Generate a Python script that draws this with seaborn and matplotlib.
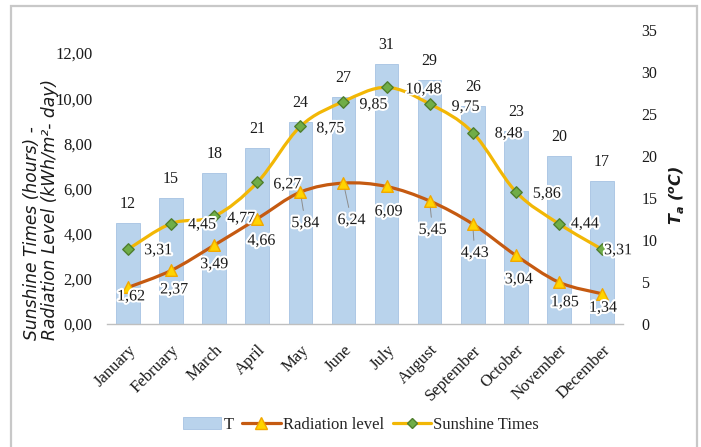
import numpy as np
import pandas as pd
import matplotlib
matplotlib.use("Agg")
import matplotlib.pyplot as plt
import matplotlib.patheffects as pe
import seaborn as sns
from matplotlib.path import Path
from matplotlib.patches import PathPatch, Patch, Rectangle
from matplotlib.lines import Line2D
from matplotlib.ticker import FuncFormatter

# ---- data -------------------------------------------------------------
months = ["January", "February", "March", "April", "May", "June", "July",
          "August", "September", "October", "November", "December"]
temperature = [12, 15, 18, 21, 24, 27, 31, 29, 26, 23, 20, 17]
radiation = [1.62, 2.37, 3.49, 4.66, 5.84, 6.24, 6.09, 5.45, 4.43, 3.04, 1.85, 1.34]
sunshine = [3.31, 4.45, 4.77, 6.27, 8.75, 9.85, 10.48, 9.75, 8.48, 5.86, 4.44, 3.31]
left_ticks = [0, 2, 4, 6, 8, 10, 12]
right_ticks = [0, 5, 10, 15, 20, 25, 30, 35]

# ---- label placement (pixels: dx to the right, dy downward) -----------
rad_offsets = [(3, 9), (3, 19), (0, 19), (4, 22), (5, 31), (8, 37),
               (2, 25), (3, 29), (2, 29), (3, 24), (6, 20), (1, 14)]
rad_leader = [False, False, False, False, True, True,
              False, True, True, False, False, False]
sun_offsets = [(30, 1), (31, 1), (27, 2), (30, 2), (30, 2), (30, 3),
               (37, 2), (36, 3), (36, 1), (31, 2), (26, 0), (16, 1)]

BAR = "#B9D3EC"
BAR_EDGE = "#A6C2E2"
RAD_LINE = "#C55A11"
RAD_FACE = "#FFD400"
RAD_EDGE = "#F2A800"
SUN_LINE = "#F2B705"
SUN_FACE = "#70AD47"
SUN_EDGE = "#4F7F2E"
TEXT = "#1a1a1a"

sns.set_theme(style="white")
plt.rcParams["font.family"] = ["Liberation Serif", "DejaVu Serif"]
plt.rcParams["mathtext.fontset"] = "dejavusans"

PX = 72 / 100  # pixels -> points at 100 dpi


def comma(v):
    return f"{v:.2f}".replace(".", ",")


def smooth_path(xs, ys):
    """Bezier path through the points with Catmull-Rom style tangents."""
    pts = np.column_stack([xs, ys]).astype(float)
    ext = np.vstack([pts[0], pts, pts[-1]])
    verts, codes = [pts[0]], [Path.MOVETO]
    for i in range(len(pts) - 1):
        p0, p1, p2, p3 = ext[i], ext[i + 1], ext[i + 2], ext[i + 3]
        verts += [p1 + (p2 - p0) / 6, p2 - (p3 - p1) / 6, p2]
        codes += [Path.CURVE4] * 3
    return Path(verts, codes)


fig = plt.figure(figsize=(7.01, 4.47), dpi=100)
axb = fig.add_axes([106.5 / 701, 1 - 324 / 447, 517 / 701, 294 / 447])
axl = axb.twinx()

# temperature bars (right scale)
df = pd.DataFrame({"Month": months, "T": temperature})
sns.barplot(data=df, x="Month", y="T", ax=axb, color=BAR, saturation=1,
            width=0.55, edgecolor=BAR_EDGE, linewidth=0.6)
axb.yaxis.tick_right()
axb.yaxis.set_label_position("right")
axl.yaxis.tick_left()
axl.yaxis.set_label_position("left")

x = np.arange(len(months))

# smoothed lines (left scale)
axl.add_patch(PathPatch(smooth_path(x, sunshine), fill=False,
                        edgecolor=SUN_LINE, lw=2.3, capstyle="round", zorder=2))
axl.add_patch(PathPatch(smooth_path(x, radiation), fill=False,
                        edgecolor=RAD_LINE, lw=2.3, capstyle="round", zorder=2))
sns.scatterplot(x=x, y=sunshine, ax=axl, marker="D", s=34, color=SUN_FACE,
                edgecolor=SUN_EDGE, linewidth=1.0, zorder=3)
sns.scatterplot(x=x, y=radiation, ax=axl, marker="^", s=70, color=RAD_FACE,
                edgecolor=RAD_EDGE, linewidth=1.0, zorder=3)

halo = [pe.withStroke(linewidth=3, foreground="white")]

for i, t in enumerate(temperature):
    axb.annotate(str(t), xy=(i, t), xytext=(0, 19 * PX), textcoords="offset points",
                 ha="center", va="center", fontsize=11.5, color=TEXT)

for i, v in enumerate(sunshine):
    dx, dy = sun_offsets[i]
    axl.annotate(comma(v), xy=(i, v), xytext=(dx * PX, -dy * PX),
                 textcoords="offset points", ha="center", va="center",
                 fontsize=11.5, color=TEXT, path_effects=halo, zorder=5)

for i, v in enumerate(radiation):
    dx, dy = rad_offsets[i]
    kw = {}
    if rad_leader[i]:
        kw["arrowprops"] = dict(arrowstyle="-", color="#8c8c8c", lw=0.7,
                                shrinkA=1, shrinkB=5)
    axl.annotate(comma(v), xy=(i, v), xytext=(dx * PX, -dy * PX),
                 textcoords="offset points", ha="center", va="center",
                 fontsize=11.5, color=TEXT, path_effects=halo, zorder=5, **kw)

# axes, ticks
axb.set_xlim(-0.5, len(months) - 0.5)
axl.set_xlim(-0.5, len(months) - 0.5)
axb.set_ylim(0, 35)
axl.set_ylim(0, 13.02)
axb.set_yticks(right_ticks)
axb.set_yticklabels([str(t) for t in right_ticks])
axl.set_yticks(left_ticks)
axl.yaxis.set_major_formatter(FuncFormatter(lambda v, _: comma(v)))
axb.set_xticks(x)
axb.set_xticklabels(months, rotation=45, ha="right", rotation_mode="anchor")
axb.set_xlabel("")
axb.set_ylabel("")
axl.set_xlabel("")
axl.set_ylabel("")
axb.tick_params(axis="x", length=0, pad=13, labelsize=12, colors=TEXT)
axb.tick_params(axis="y", length=0, pad=13, labelsize=11.5, colors=TEXT)
axl.tick_params(axis="y", length=0, pad=10, labelsize=12, colors=TEXT)

for a in (axb, axl):
    for s in a.spines.values():
        s.set_visible(False)
axb.spines["bottom"].set_visible(True)
axb.spines["bottom"].set_color("#BFBFBF")
axb.spines["bottom"].set_linewidth(1.0)

# axis titles
fig.text(41 / 701, 1 - 340 / 447,
         "Sunshine Times (hours) -\nRadiation Level (kWh/m²- day)",
         rotation=90, ha="center", va="bottom", multialignment="left",
         family="DejaVu Sans", style="italic", fontsize=12.3, linespacing=1.0,
         color=TEXT)
fig.text(677 / 701, 1 - 195 / 447, r"$\mathbfit{T_a}\ \mathbfit{(^oC)}$",
         rotation=90, ha="center", va="center", fontsize=11.5, color=TEXT)

# legend
handles = [
    Patch(facecolor=BAR, edgecolor=BAR_EDGE, linewidth=0.6),
    Line2D([0], [0], color=RAD_LINE, lw=2.3, marker="^", markersize=8,
           markerfacecolor=RAD_FACE, markeredgecolor=RAD_EDGE),
    Line2D([0], [0], color=SUN_LINE, lw=2.3, marker="D", markersize=5.5,
           markerfacecolor=SUN_FACE, markeredgecolor=SUN_EDGE),
]
fig.legend(handles, ["T", "Radiation level", "Sunshine Times"], loc="center",
           bbox_to_anchor=(0.515, 1 - 425 / 447), ncol=3, frameon=False,
           fontsize=12, handlelength=2.3, handletextpad=0.15, columnspacing=0.5)

# chart frame
fig.add_artist(Rectangle((11 / 701, -0.05), 686 / 701, 1.05 - 6 / 447,
                         transform=fig.transFigure, fill=False,
                         edgecolor="#C8C8C8", lw=1.6))

fig.savefig("out.png", dpi=100)
